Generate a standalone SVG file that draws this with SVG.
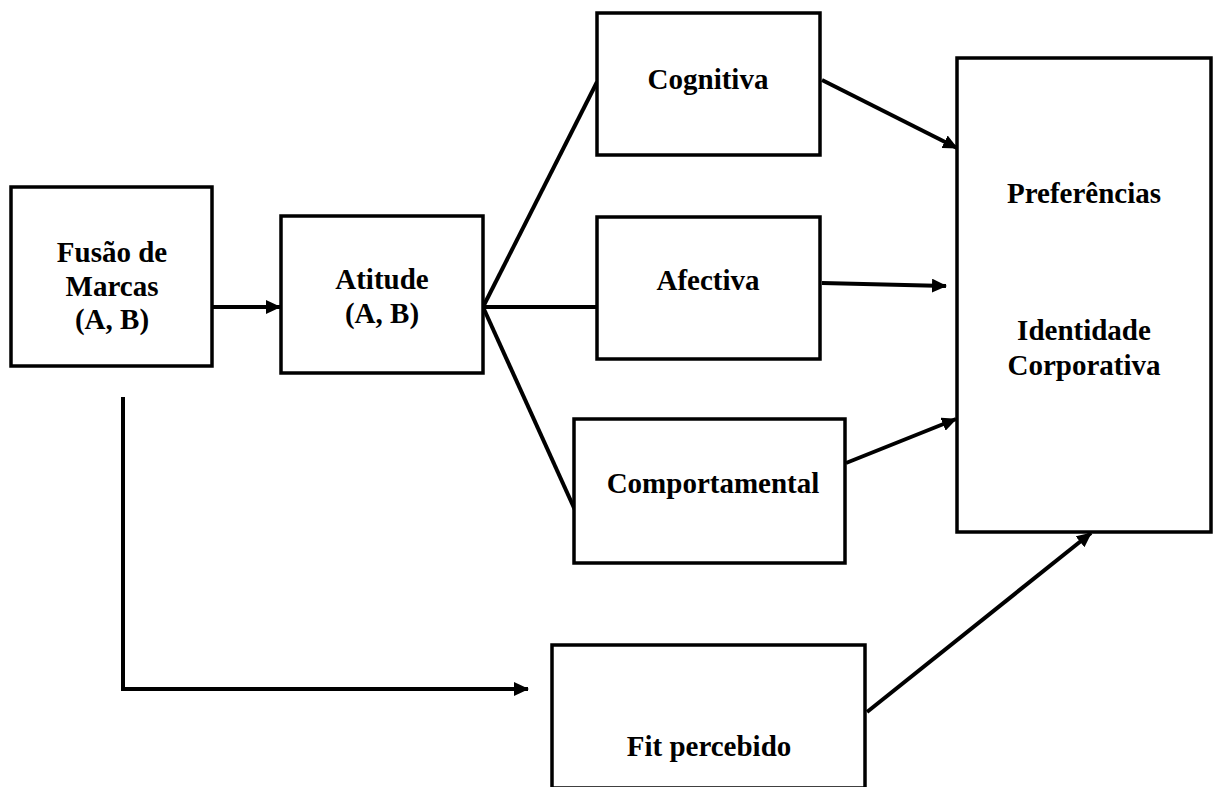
<svg xmlns="http://www.w3.org/2000/svg" width="1218" height="787" viewBox="0 0 1218 787">
  <style>
    .box { fill: #fff; stroke: #000; stroke-width: 3.5; }
    .link { fill: none; stroke: #000; stroke-width: 4; }
    .lbl { font-family: "Liberation Serif", "Times New Roman", serif; font-weight: bold; font-size: 29px; fill: #000; text-anchor: middle; }
  </style>
  <defs>
    <marker id="arrow" markerUnits="userSpaceOnUse" markerWidth="15" markerHeight="14" refX="14" refY="7" orient="auto">
      <path d="M0,0 L15,7 L0,14 z" fill="#000"/>
    </marker>
  </defs>
  <rect width="1218" height="787" fill="#fff"/>

  <g id="connectors">
    <path class="link" d="M212,307 L280,307" marker-end="url(#arrow)"/>
    <path class="link" d="M483,307 L597,82"/>
    <path class="link" d="M483,307 L597,307"/>
    <path class="link" d="M483,307 L575,510"/>
    <path class="link" d="M822,80 L957,148" marker-end="url(#arrow)"/>
    <path class="link" d="M822,283 L946,286" marker-end="url(#arrow)"/>
    <path class="link" d="M846,463 L956,419" marker-end="url(#arrow)"/>
    <path class="link" d="M867,712 L1091,533" marker-end="url(#arrow)"/>
    <path class="link" d="M123,397 L123,689 L528,689" marker-end="url(#arrow)"/>
  </g>

  <g id="fusao">
    <rect class="box" x="11" y="187" width="201" height="179"/>
    <text class="lbl" x="112" y="262">Fusão de</text>
    <text class="lbl" x="112" y="296">Marcas</text>
    <text class="lbl" x="112" y="329">(A, B)</text>
  </g>

  <g id="atitude">
    <rect class="box" x="281" y="216" width="202" height="157"/>
    <text class="lbl" x="382" y="289">Atitude</text>
    <text class="lbl" x="382" y="323">(A, B)</text>
  </g>

  <g id="cognitiva">
    <rect class="box" x="597" y="13" width="223" height="142"/>
    <text class="lbl" x="708" y="89">Cognitiva</text>
  </g>

  <g id="afectiva">
    <rect class="box" x="597" y="217" width="223" height="142"/>
    <text class="lbl" x="708" y="290">Afectiva</text>
  </g>

  <g id="comportamental">
    <rect class="box" x="574" y="419" width="271" height="144"/>
    <text class="lbl" x="713" y="493">Comportamental</text>
  </g>

  <g id="resultado">
    <rect class="box" x="957" y="58" width="254" height="474"/>
    <text class="lbl" x="1084" y="203">Preferências</text>
    <text class="lbl" x="1084" y="340">Identidade</text>
    <text class="lbl" x="1084" y="375">Corporativa</text>
  </g>

  <g id="fit">
    <rect class="box" x="552" y="645" width="313" height="143"/>
    <text class="lbl" x="709" y="756">Fit percebido</text>
  </g>
</svg>
